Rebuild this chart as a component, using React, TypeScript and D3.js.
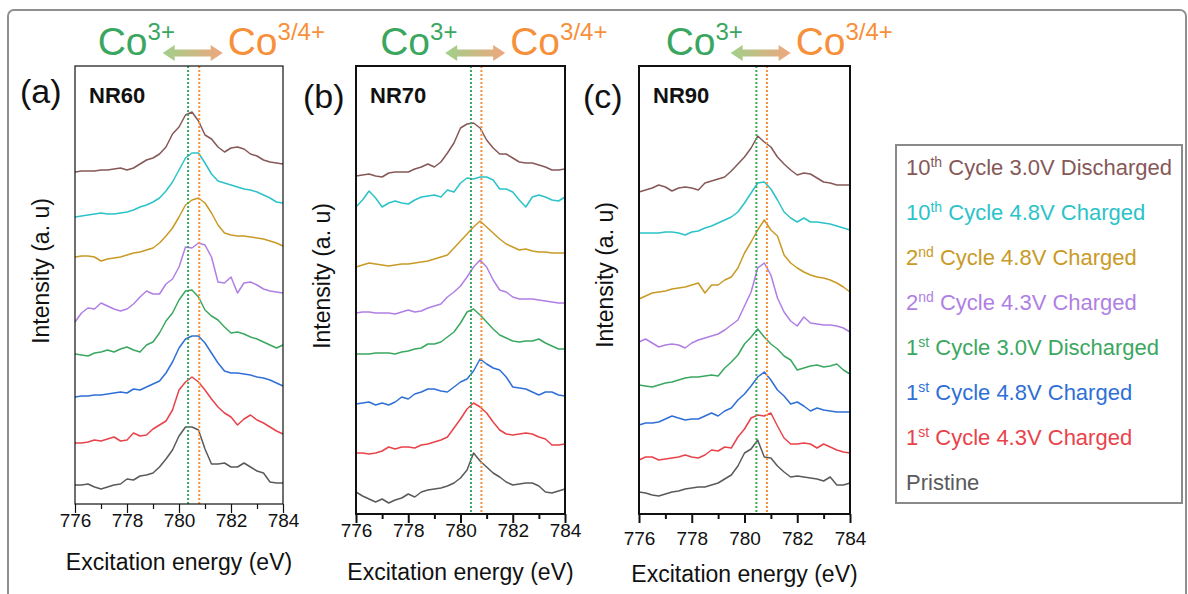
import { useEffect, useRef } from 'react'
import * as d3 from 'd3'

// Excitation energy grid (eV), shared by every spectrum
const energies = [
  776, 776.25, 776.5, 776.75, 777, 777.25, 777.5, 777.75, 778, 778.25, 778.5,
  778.75, 779, 779.25, 779.5, 779.75, 780, 780.25, 780.5, 780.75, 781, 781.25,
  781.5, 781.75, 782, 782.25, 782.5, 782.75, 783, 783.25, 783.5, 783.75, 784,
]

const majorTicks = [776, 778, 780, 782, 784]
const minorTicks = [777, 779, 781, 783]

const panelNames = ['NR60', 'NR70', 'NR90']
const panelLetters = ['(a)', '(b)', '(c)']

// Co3+ / Co3/4+ reference energies (eV) per panel
const co3Lines = [780.35, 780.4, 780.45]
const co34Lines = [780.78, 780.8, 780.85]

// legend order = stacking order, top to bottom
const legendOrdinals = ['10', '10', '2', '2', '1', '1', '1', 'Pristine']
const legendSups = ['th', 'th', 'nd', 'nd', 'st', 'st', 'st', '']
const legendRest = [
  ' Cycle 3.0V Discharged',
  ' Cycle 4.8V Charged',
  ' Cycle 4.8V Charged',
  ' Cycle 4.3V Charged',
  ' Cycle 3.0V Discharged',
  ' Cycle 4.8V Charged',
  ' Cycle 4.3V Charged',
  '',
]
const seriesColors = ['#865858', '#2bc3c9', '#c99a26', '#b07fe4', '#3ba760', '#2f6fd6', '#e8434a', '#5a5a5a']

// stacked intensities (a. u., offsets included), one row per series
const nr60Curves = [
  [332, 333, 333, 333, 334, 334, 335, 336, 334, 336, 340, 344, 346, 350, 357, 370, 377, 389, 392, 383, 369, 365, 357, 352, 356, 357, 355, 350, 348, 344, 342, 341, 340],
  [287, 288, 289, 290, 291, 290, 290, 291, 292, 294, 297, 299, 302, 306, 313, 322, 334, 346, 351, 351, 341, 330, 323, 321, 319, 317, 315, 314, 312, 309, 306, 302, 301],
  [247, 248, 248, 247, 243, 245, 246, 247, 249, 251, 252, 254, 256, 261, 268, 276, 287, 299, 304, 306, 301, 291, 279, 271, 269, 268, 268, 267, 266, 265, 263, 261, 258],
  [182, 191, 196, 195, 201, 198, 195, 193, 195, 200, 207, 213, 210, 210, 220, 225, 237, 257, 256, 261, 259, 247, 222, 221, 227, 211, 221, 222, 219, 215, 213, 212, 211],
  [150, 149, 148, 151, 152, 154, 152, 155, 157, 154, 152, 159, 162, 171, 183, 191, 204, 213, 214, 207, 194, 188, 184, 177, 171, 172, 170, 167, 165, 162, 159, 156, 159],
  [107, 108, 108, 109, 109, 110, 111, 112, 111, 115, 114, 117, 120, 123, 131, 142, 156, 165, 168, 168, 161, 151, 141, 133, 131, 131, 130, 129, 127, 126, 124, 121, 118],
  [61, 61, 62, 64, 63, 65, 67, 63, 64, 71, 68, 69, 75, 79, 83, 94, 114, 122, 127, 122, 114, 105, 97, 91, 87, 79, 85, 89, 84, 81, 77, 73, 70],
  [19, 19, 20, 17, 15, 17, 19, 20, 25, 24, 28, 29, 31, 37, 45, 54, 68, 77, 77, 74, 55, 40, 40, 41, 37, 37, 41, 37, 33, 31, 22, 21, 21],
]

const nr70Curves = [
  [338, 339, 340, 338, 337, 341, 342, 342, 342, 345, 347, 350, 347, 352, 361, 371, 386, 390, 391, 386, 374, 366, 360, 360, 356, 352, 351, 351, 349, 347, 344, 344, 345],
  [307, 314, 323, 316, 307, 311, 313, 311, 310, 314, 317, 318, 319, 317, 324, 322, 331, 336, 335, 337, 337, 334, 325, 325, 322, 314, 307, 317, 319, 317, 314, 313, 317],
  [247, 249, 251, 250, 249, 248, 249, 250, 250, 251, 252, 253, 255, 257, 259, 266, 273, 280, 287, 293, 287, 281, 275, 270, 267, 264, 265, 263, 262, 262, 261, 261, 261],
  [201, 202, 202, 201, 201, 201, 200, 202, 204, 202, 203, 206, 208, 210, 217, 222, 228, 237, 247, 254, 247, 234, 224, 222, 217, 215, 215, 215, 214, 213, 212, 211, 211],
  [160, 160, 160, 161, 161, 161, 160, 162, 163, 165, 166, 170, 170, 172, 177, 182, 191, 202, 205, 199, 192, 185, 179, 176, 173, 172, 173, 173, 175, 171, 168, 165, 165],
  [110, 111, 112, 109, 111, 109, 112, 117, 115, 120, 122, 125, 125, 123, 122, 127, 132, 135, 143, 155, 150, 146, 144, 137, 127, 126, 125, 122, 119, 122, 122, 119, 118],
  [61, 61, 60, 61, 63, 67, 65, 67, 67, 66, 69, 70, 72, 74, 77, 86, 95, 105, 111, 107, 101, 92, 84, 80, 79, 80, 81, 80, 77, 75, 69, 69, 70],
  [22, 18, 15, 12, 15, 11, 14, 16, 20, 17, 22, 24, 25, 26, 28, 31, 36, 44, 61, 53, 47, 41, 37, 32, 29, 30, 31, 31, 28, 22, 21, 23, 25],
]

const nr90Curves = [
  [322, 324, 326, 329, 327, 323, 326, 327, 326, 324, 331, 333, 335, 337, 343, 350, 357, 366, 378, 372, 367, 357, 350, 344, 339, 341, 340, 336, 332, 331, 329, 329, 329],
  [281, 281, 281, 281, 282, 282, 281, 279, 282, 283, 286, 288, 291, 294, 297, 302, 311, 321, 331, 332, 325, 314, 302, 296, 292, 296, 292, 292, 291, 290, 288, 286, 284],
  [215, 218, 221, 222, 223, 225, 226, 227, 229, 231, 221, 229, 229, 234, 237, 246, 261, 272, 284, 294, 284, 278, 259, 251, 246, 242, 239, 237, 236, 234, 231, 227, 222],
  [172, 175, 171, 167, 169, 170, 169, 166, 171, 174, 176, 178, 180, 184, 189, 194, 208, 222, 246, 251, 239, 216, 202, 193, 188, 197, 191, 190, 189, 189, 188, 186, 182],
  [129, 128, 127, 129, 131, 132, 134, 136, 137, 137, 138, 139, 138, 146, 152, 159, 170, 177, 185, 177, 170, 165, 158, 154, 144, 146, 148, 149, 147, 148, 150, 144, 140],
  [89, 91, 91, 92, 95, 98, 96, 94, 95, 95, 98, 101, 98, 103, 106, 114, 120, 128, 137, 142, 134, 124, 118, 110, 112, 108, 103, 106, 104, 103, 102, 102, 102],
  [54, 57, 57, 54, 55, 56, 57, 59, 57, 56, 59, 64, 63, 67, 66, 77, 85, 96, 99, 98, 101, 88, 76, 70, 70, 71, 70, 66, 70, 67, 64, 62, 61],
  [22, 21, 19, 18, 20, 22, 23, 25, 26, 27, 27, 29, 31, 35, 39, 48, 61, 65, 74, 57, 56, 48, 42, 37, 38, 37, 36, 35, 33, 37, 29, 29, 31],
]

const panelCurves = [nr60Curves, nr70Curves, nr90Curves]

// page layout (pixels)
const layouts = [
  { left: 75, right: 283, top: 66, bottom: 504, frame: 1.2, tickDy: 23, labelY: 570, letterX: 20, letterY: 103, ylabX: 41, ylabY: 271 },
  { left: 356, right: 565, top: 66, bottom: 514, frame: 2, tickDy: 23, labelY: 580, letterX: 303, letterY: 108, ylabX: 322, ylabY: 276 },
  { left: 639, right: 850, top: 66, bottom: 514, frame: 2, tickDy: 31, labelY: 582, letterX: 583, letterY: 108, ylabX: 605, ylabY: 275 },
]

const FONT = "'Liberation Sans', Arial, Helvetica, sans-serif"
const GREEN = '#3aa660'
const ORANGE = '#f7903a'

export default function App() {
  const svgRef = useRef<SVGSVGElement>(null)

  useEffect(() => {
    if (!svgRef.current) return
    const svg = d3.select(svgRef.current)
    svg.selectAll('*').remove()

    // outer rounded frame
    svg.append('rect')
      .attr('x', 8).attr('y', 10).attr('width', 1178).attr('height', 600).attr('rx', 6)
      .attr('fill', 'white').attr('stroke', '#8f8f8f').attr('stroke-width', 2)

    const grad = svg.append('defs').append('linearGradient')
      .attr('id', 'arrowGrad').attr('x1', '0%').attr('x2', '100%').attr('y1', '0%').attr('y2', '0%')
    grad.append('stop').attr('offset', '0%').attr('stop-color', '#9fd08a')
    grad.append('stop').attr('offset', '100%').attr('stop-color', '#f0a67e')

    layouts.forEach((p, pi) => {
      const x = d3.scaleLinear().domain([776, 784]).range([p.left, p.right])
      const y = d3.scaleLinear().domain([0, p.bottom - p.top]).range([p.bottom, p.top])
      const g = svg.append('g')

      const line = d3.line<number>()
        .x((_, i) => x(energies[i]))
        .y((d) => y(d))

      panelCurves[pi].forEach((vals, si) => {
        g.append('path')
          .attr('d', line(vals))
          .attr('fill', 'none')
          .attr('stroke', seriesColors[si])
          .attr('stroke-width', 1.5)
          .attr('stroke-linejoin', 'round')
      })

      // reference dotted lines
      ;[[co3Lines[pi], GREEN], [co34Lines[pi], ORANGE]].forEach(([e, c]) => {
        g.append('line')
          .attr('x1', x(e as number)).attr('x2', x(e as number))
          .attr('y1', p.top).attr('y2', p.bottom)
          .attr('stroke', c as string).attr('stroke-width', 2)
          .attr('stroke-dasharray', '2,2')
      })

      // frame
      g.append('rect')
        .attr('x', p.left).attr('y', p.top)
        .attr('width', p.right - p.left).attr('height', p.bottom - p.top)
        .attr('fill', 'none').attr('stroke', '#111').attr('stroke-width', p.frame)

      // x axis (major + minor ticks, outward)
      const major = g.append('g')
        .attr('transform', `translate(0,${p.bottom})`)
        .call(d3.axisBottom(x).tickValues(majorTicks).tickSizeInner(9).tickSizeOuter(0).tickFormat(d3.format('d')))
      major.select('.domain').remove()
      major.selectAll('line').attr('stroke', '#111').attr('stroke-width', p.frame)
      major.selectAll('text')
        .attr('y', p.tickDy).attr('dy', 0)
        .attr('fill', '#111')
        .style('font-size', '19px').style('font-family', FONT)

      const minor = g.append('g')
        .attr('transform', `translate(0,${p.bottom})`)
        .call(d3.axisBottom(x).tickValues(minorTicks).tickSizeInner(5).tickSizeOuter(0).tickFormat(() => ''))
      minor.select('.domain').remove()
      minor.selectAll('line').attr('stroke', '#111').attr('stroke-width', p.frame)

      // axis titles
      g.append('text')
        .attr('x', (p.left + p.right) / 2).attr('y', p.labelY)
        .attr('text-anchor', 'middle')
        .style('font-size', '23px').style('font-family', FONT).attr('fill', '#111')
        .text('Excitation energy (eV)')

      g.append('text')
        .attr('transform', `translate(${p.ylabX},${p.ylabY}) rotate(-90)`)
        .attr('text-anchor', 'middle').attr('dy', '0.35em')
        .style('font-size', '23px').style('font-family', FONT).attr('fill', '#111')
        .text('Intensity (a. u)')

      // panel letter and sample name
      g.append('text')
        .attr('x', p.letterX).attr('y', p.letterY)
        .style('font-size', '34px').style('font-family', FONT).attr('fill', '#111')
        .text(panelLetters[pi])

      g.append('text')
        .attr('x', p.left + 14).attr('y', 103)
        .style('font-size', '22px').style('font-weight', 'bold').style('font-family', FONT).attr('fill', '#111')
        .text(panelNames[pi])

      // Co3+ <-> Co3/4+ header
      const cx = (x(co3Lines[pi]) + x(co34Lines[pi])) / 2 - 1
      const x0 = cx - 30
      const x1 = cx + 30
      const cy = 53
      g.append('polygon')
        .attr('points', [
          [x0, cy], [x0 + 12, cy - 8], [x0 + 12, cy - 3.5], [x1 - 12, cy - 3.5], [x1 - 12, cy - 8],
          [x1, cy], [x1 - 12, cy + 8], [x1 - 12, cy + 3.5], [x0 + 12, cy + 3.5], [x0 + 12, cy + 8],
        ].map((q) => q.join(',')).join(' '))
        .attr('fill', 'url(#arrowGrad)')

      const green = g.append('text')
        .attr('x', x0 - 65).attr('y', 55)
        .style('font-family', FONT).attr('fill', GREEN)
      green.append('tspan').style('font-size', '39px').text('Co')
      green.append('tspan').style('font-size', '24px').attr('dy', -15).text('3+')

      const orange = g.append('text')
        .attr('x', x1 + 5).attr('y', 55)
        .style('font-family', FONT).attr('fill', ORANGE)
      orange.append('tspan').style('font-size', '39px').text('Co')
      orange.append('tspan').style('font-size', '24px').attr('dy', -15).text('3/4+')
    })

    // legend
    svg.append('rect')
      .attr('x', 896).attr('y', 145).attr('width', 286).attr('height', 358)
      .attr('fill', 'white').attr('stroke', '#8a8a8a').attr('stroke-width', 2)

    legendOrdinals.forEach((ord, i) => {
      const t = svg.append('text')
        .attr('x', 906).attr('y', 175 + i * 45)
        .style('font-family', FONT).style('font-size', '22px')
        .attr('fill', seriesColors[i])
      t.append('tspan').text(ord)
      if (legendSups[i]) {
        t.append('tspan').style('font-size', '14px').attr('dy', -8).text(legendSups[i])
        t.append('tspan').attr('dy', 8).text(legendRest[i])
      }
    })
  }, [])

  return (
    <svg
      ref={svgRef}
      width={1188}
      height={594}
      style={{ position: 'absolute', left: 0, top: 0, background: '#fff' }}
    />
  )
}
